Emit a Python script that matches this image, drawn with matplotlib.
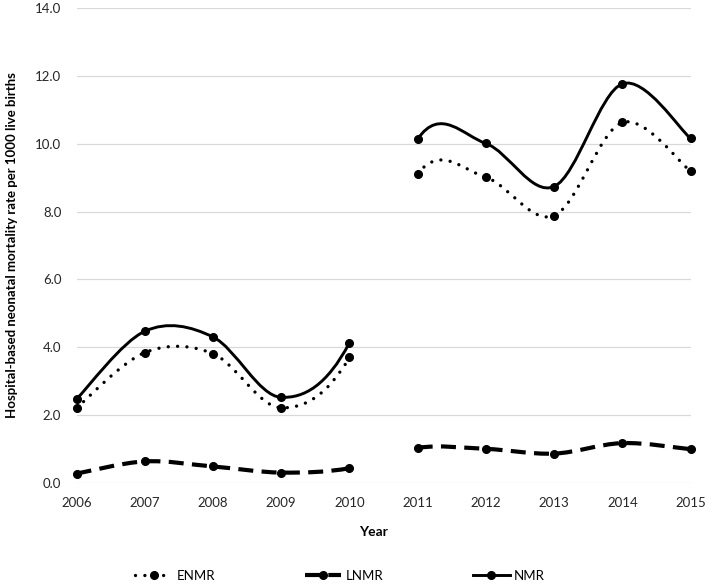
"""
Hospital-based neonatal mortality rate 2006-2015 (ENMR, LNMR, NMR), smoothed lines.
Each measure is one smoothed series; the 2010 -> 2011 segment is left out.
"""
import numpy as np
import matplotlib
matplotlib.use('Agg')
import matplotlib.pyplot as plt
from matplotlib.path import Path
from matplotlib.patches import PathPatch
from matplotlib.lines import Line2D

plt.rcParams['font.family'] = ['Lato', 'DejaVu Sans']

years = [2006, 2007, 2008, 2009, 2010, 2011, 2012, 2013, 2014, 2015]
gap_after = 2010  # no line drawn between 2010 and 2011

enmr = [2.21, 3.84, 3.81, 2.21, 3.70, 9.11, 9.01, 7.88, 10.63, 9.19]
lnmr = [0.27, 0.63, 0.48, 0.30, 0.43, 1.03, 1.00, 0.86, 1.17, 0.99]
nmr = [2.47, 4.47, 4.30, 2.52, 4.13, 10.14, 10.01, 8.74, 11.77, 10.16]

y_ticks = [0, 2, 4, 6, 8, 10, 12, 14]


def smooth_path(xs, ys, skip_x):
    """Excel-like smoothed line (Catmull-Rom as cubic Bezier), one segment hidden."""
    pts = np.column_stack([xs, ys]).astype(float)
    n = len(pts)
    verts = [pts[0]]
    codes = [Path.MOVETO]
    for i in range(n - 1):
        p0 = pts[i - 1] if i > 0 else pts[i]
        p1 = pts[i]
        p2 = pts[i + 1]
        p3 = pts[i + 2] if i + 2 < n else pts[i + 1]
        if xs[i] == skip_x:
            verts.append(p2)
            codes.append(Path.MOVETO)
            continue
        c1 = p1 + (p2 - p0) / 6.0
        c2 = p2 - (p3 - p1) / 6.0
        verts += [c1, c2, p2]
        codes += [Path.CURVE4] * 3
    return Path(verts, codes)


styles = {
    'ENMR': dict(ls=(0, (0.01, 2.8)), lw=2.4, cap='round'),
    'LNMR': dict(ls=(0, (3.6, 2.0)), lw=3.0, cap='butt'),
    'NMR': dict(ls='-', lw=2.1, cap='round'),
}

series = [('ENMR', enmr), ('LNMR', lnmr), ('NMR', nmr)]

fig = plt.figure(figsize=(7.09, 5.88), dpi=100)
ax = fig.add_axes([0.108, 0.179, 0.866, 0.807])

for name, vals in series:
    st = styles[name]
    patch = PathPatch(smooth_path(years, vals, gap_after), fill=False,
                      edgecolor='black', linewidth=st['lw'], linestyle=st['ls'],
                      capstyle=st['cap'], clip_on=False, zorder=3)
    ax.add_patch(patch)
    ax.plot(years, vals, linestyle='none', marker='o', markersize=5.5,
            color='black', clip_on=False, zorder=4)

ax.set_xlim(2006, 2015)
ax.set_ylim(0, 14)
ax.set_xticks(years)
ax.set_yticks(y_ticks)
ax.set_yticklabels([f'{v:.1f}' for v in y_ticks])
ax.tick_params(length=0, labelsize=9.5, colors='#262626')
ax.tick_params(axis='y', pad=11)
ax.tick_params(axis='x', pad=10)
for s in ax.spines.values():
    s.set_visible(False)
ax.yaxis.grid(True, color='#d9d9d9', linewidth=0.9)
ax.set_axisbelow(True)

fig.text(373 / 709, 1 - 532 / 588, 'Year', ha='center', va='center',
         fontsize=10, fontweight='bold')
fig.text(12 / 709, 1 - 245 / 588,
         'Hospital-based neonatal mortality rate per 1000 live births',
         rotation=90, ha='center', va='center', fontsize=9.5, fontweight='bold')

handles = []
for name, _ in series:
    st = styles[name]
    h = Line2D([], [], color='black', linewidth=st['lw'], linestyle=st['ls'],
               marker='o', markersize=5.5, dash_capstyle=st['cap'])
    handles.append(h)
fig.legend(handles, [s[0] for s in series], loc='center', ncol=3,
           bbox_to_anchor=(340 / 709, 1 - 576 / 588), frameon=False,
           fontsize=9.5, handlelength=2.8, handletextpad=0.3,
           columnspacing=6.8, numpoints=1)

fig.savefig('out.png', dpi=100)
